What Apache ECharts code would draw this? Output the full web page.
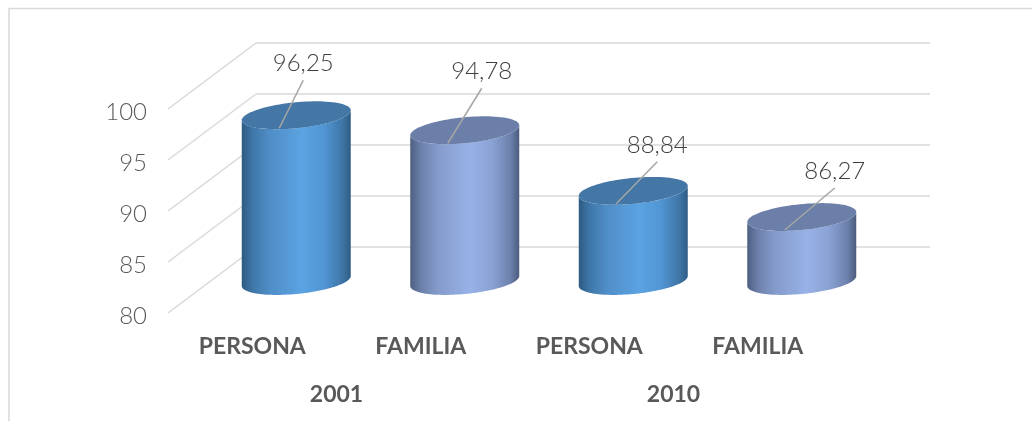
<!DOCTYPE html>
<html><head><meta charset="utf-8">
<style>html,body{margin:0;padding:0;background:#fff}#c{width:1032px;height:421px}</style>
<script src="https://cdn.jsdelivr.net/npm/echarts@6/dist/echarts.min.js"></script>
</head><body><div id="c"></div>
<script>
const categories = ['PERSONA','FAMILIA','PERSONA','FAMILIA'];
const years = ['2001','2010'];
const values = [96.25,94.78,88.84,86.27];
const labels = ['96,25','94,78','88,84','86,27'];
const leaderOffsets = [[24,-48],[34,-55],[41,-42],[50,-42]];
const depthLevels = [80,85,90,95,100];

const depth = {x:88,y:-66};
const mid = {x:44,y:-32};
const rx = 54.5, shear = 5, ry = 13;
const bodyStops = [
  [[0,'#2d5b82'],[.1,'#3f76a8'],[.25,'#4f8dc6'],[.55,'#5ba3e2'],[.75,'#5296d4'],[.92,'#3f76a8'],[1,'#2f5c84']],
  [[0,'#4e5f80'],[.1,'#6c80ab'],[.25,'#849bca'],[.55,'#98b2e8'],[.75,'#8aa2d4'],[.92,'#6c80ab'],[1,'#4c5c7d']]
];
const topColors = ['#4477a6','#6b7fa8'];
const txt = '#595959', grid = '#d9d9d9';

function ell(cx,cy,a,b,n){
  const p=[];
  for(let i=0;i<=n;i++){
    const t=a+(b-a)*i/n;
    p.push([cx+rx*Math.cos(t), cy-shear*Math.cos(t)+ry*Math.sin(t)]);
  }
  return p;
}
function renderCyl(params,api){
  const i=api.value(0), v=api.value(1);
  const top=api.coord([i,v]), base=api.coord([i,80]);
  const cx=top[0]+mid.x, ty=top[1]+mid.y, by=base[1]+mid.y;
  const s=i%2;
  const body=ell(cx,by,Math.PI,0,60).concat(ell(cx,ty,0,Math.PI,60));
  const cap=ell(cx,ty,0,Math.PI*2,90);
  const off=leaderOffsets[i];
  const sx=cx-17, sy=ty+13;
  return {type:'group',children:[
    {type:'polygon',shape:{points:body},style:{fill:{type:'linear',x:0,y:0,x2:1,y2:0,
      colorStops:bodyStops[s].map(c=>({offset:c[0],color:c[1]}))}}},
    {type:'polygon',shape:{points:cap},style:{fill:topColors[s]}},
    {type:'line',shape:{x1:sx,y1:sy,x2:sx+off[0],y2:sy+off[1]},style:{stroke:'#a6a6a6',lineWidth:1.5}},
    {type:'text',x:sx+off[0],y:sy+off[1]-17,style:{text:labels[i],align:'center',verticalAlign:'middle',
      fill:'#404040',font:'300 24px Lato, "Open Sans", sans-serif'}}
  ]};
}
function renderWall(params,api){
  const p=api.coord([0,api.value(0)]);
  const left=params.coordSys.x;
  return {type:'line',shape:{x1:left,y1:p[1],x2:left+depth.x,y2:p[1]+depth.y},
    style:{stroke:grid,lineWidth:1.5}};
}
const chart=echarts.init(document.getElementById('c'),null,{renderer:'canvas'});
const hiddenX={type:'category',data:categories,axisLine:{show:false},axisTick:{show:false},axisLabel:{show:false}};
chart.setOption({
  animation:false,backgroundColor:'#fff',
  graphic:[{type:'polyline',shape:{points:[[9,421],[9,8.5],[1032,8.5]]},
    style:{stroke:grid,lineWidth:1.5,fill:null},silent:true}],
  grid:[
    {left:168,top:109,width:674,height:204},
    {left:256,top:43,width:674,height:204},
    {left:168,top:112,width:674,height:204}
  ],
  xAxis:[
    {type:'category',gridIndex:0,data:categories,axisLine:{show:false},axisTick:{show:false},
     axisLabel:{color:txt,fontFamily:'Lato, sans-serif',fontWeight:'bold',fontSize:23,margin:22,interval:0}},
    {type:'category',gridIndex:0,position:'bottom',offset:48,data:years,axisLine:{show:false},axisTick:{show:false},
     axisLabel:{color:txt,fontFamily:'Lato, sans-serif',fontWeight:'bold',fontSize:23,margin:22}},
    Object.assign({gridIndex:1},hiddenX),
    Object.assign({gridIndex:2},hiddenX)
  ],
  yAxis:[
    {type:'value',gridIndex:0,min:80,max:100,interval:5,axisLine:{show:false},axisTick:{show:false},splitLine:{show:false},axisLabel:{show:false}},
    {type:'value',gridIndex:1,min:80,max:100,interval:5,axisLine:{show:false},axisTick:{show:false},axisLabel:{show:false},
     splitLine:{show:true,lineStyle:{color:grid,width:1.5}}},
    {type:'value',gridIndex:2,min:80,max:100,interval:5,axisLine:{show:false},axisTick:{show:false},splitLine:{show:false},
     axisLabel:{color:txt,fontFamily:'Lato, sans-serif',fontWeight:300,fontSize:24,margin:21}}
  ],
  series:[
    {type:'custom',xAxisIndex:0,yAxisIndex:0,coordinateSystem:'cartesian2d',data:depthLevels.map(v=>[v]),
     encode:{y:0},renderItem:renderWall,silent:true,z:1,clip:false},
    {type:'custom',xAxisIndex:0,yAxisIndex:0,coordinateSystem:'cartesian2d',data:values.map((v,i)=>[i,v]),
     encode:{x:0,y:1},renderItem:renderCyl,silent:true,z:3,clip:false}
  ]
});
</script></body></html>
